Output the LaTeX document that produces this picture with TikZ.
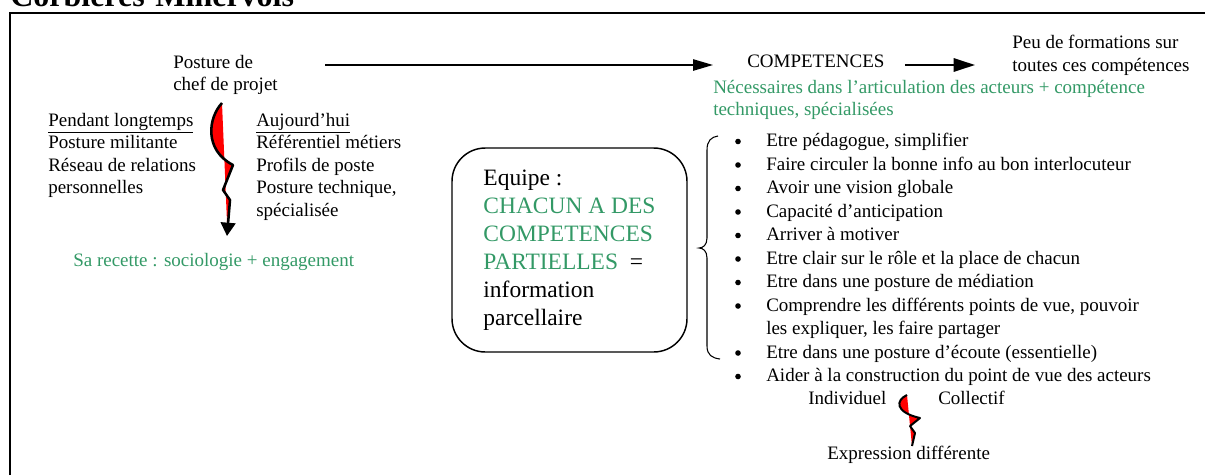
\documentclass[tikz,border=0pt]{standalone}
\usepackage{fontspec}
\setmainfont{Liberation Serif}
\usetikzlibrary{arrows.meta}
\definecolor{seagreen}{RGB}{51,153,102}
\newcommand{\bodysize}{\fontsize{14.25}{16.8}\selectfont}
\newcommand{\boxsize}{\fontsize{17.6}{21}\selectfont}
\tikzset{
  txt/.style={font=\bodysize, inner sep=0pt, align=left, anchor=north west},
  lbl/.style={font=\bodysize, inner sep=0pt, anchor=base west},
  arr/.style={-{Triangle[length=15pt,width=8.5pt]}},
  bolt/.style={line width=1.9pt, line join=round}
}
\begin{document}
\begin{tikzpicture}[x=0.75pt,y=-0.75pt]
  \useasboundingbox (0,0) rectangle (1205,475);
  % title and frame
  \node[lbl, font=\fontsize{24}{28}\selectfont\bfseries] (title) at (10,6) {Corbières-Minervois};
  \draw[line width=1.5pt] (10,475) -- (10,13) -- (1205,13);

  % left part
  \node[txt] (posture) at (173,55) {Posture de\\chef de projet};
  \node[txt] (avant) at (48,113) {\underline{Pendant longtemps}\\Posture militante\\Réseau de relations\\personnelles};
  \node[txt] (now) at (256,113) {\underline{Aujourd’hui}\\Référentiel métiers\\Profils de poste\\Posture technique,\\spécialisée};
  \node[lbl, text=seagreen] (recette) at (73,266) {Sa recette : sociologie + engagement};
  \fill[red] (222,103) .. controls (208,118) and (204,150) .. (233,165) -- (223,190) -- (230,200) -- (227,222) -- cycle;
  \draw[bolt, -{Triangle[length=10pt,width=11pt]}] (222,103) .. controls (208,118) and (204,150) .. (233,165) -- (223,190) -- (230,200) -- (227,236);

  % competences
  \node[lbl] (comp) at (747,67) {COMPETENCES};
  \node[txt] (peu) at (1012,35) {Peu de formations sur\\toutes ces compétences};
  \node[txt, text=seagreen] (need) at (713,80) {Nécessaires dans l’articulation des acteurs + compétence\\techniques, spécialisées};
  \coordinate (a1) at (325,65);
  \draw[arr, line width=1.2pt, shorten >=25.5pt] (a1) -- (a1 -| comp.west);
  \draw[-{Triangle[length=16pt,width=10pt]}, line width=1.5pt, shorten <=15pt, shorten >=27.75pt] (comp.east |- a1) -- (peu.west |- a1);

  % equipe
  \node[draw, line width=1.1pt, rounded corners=25pt, minimum width=176.25pt, minimum height=153pt,
    align=left, font=\boxsize, inner sep=0pt] (equipe) at (569.5,250)
    {Equipe :\\\textcolor{seagreen}{CHACUN A DES}\\\textcolor{seagreen}{COMPETENCES}\\\textcolor{seagreen}{PARTIELLES}~ =\\information\\parcellaire};

  % list of skills
  \draw[line width=0.8pt] (718,136) .. controls (711,137) and (707,141) .. (707,150) -- (707,238)
    .. controls (707,245) and (703,248) .. (699,248) .. controls (703,248) and (707,251) .. (707,258)
    -- (707,346) .. controls (707,355) and (712,358) .. (720,359);
  \foreach \n/\y/\txt in {1/146.5/{Etre pédagogue, simplifier},
    2/170/{Faire circuler la bonne info au bon interlocuteur},
    3/193.5/{Avoir une vision globale},
    4/217/{Capacité d’anticipation},
    5/240.5/{Arriver à motiver},
    6/264/{Etre clair sur le rôle et la place de chacun},
    7/287.5/{Etre dans une posture de médiation},
    8/311/{Comprendre les différents points de vue, pouvoir},
    9/358/{Etre dans une posture d’écoute (essentielle)},
    10/381.5/{Aider à la construction du point de vue des acteurs}} {
    \fill (738,\y-5) circle (2.8);
    \node[lbl] (it\n) at (766,\y) {\txt};
  }
  \node[lbl] (it8b) at (766,334.5) {les expliquer, les faire partager};

  % individuel / collectif
  \node[lbl] (indiv) at (808,404) {Individuel};
  \node[lbl] (coll) at (938,404) {Collectif};
  \node[lbl] (expr) at (827,459) {Expression différente};
  \fill[red] (907,395) .. controls (896,400) and (894,412) .. (920,418) -- (910,426) -- (915,433) -- (912,446) -- cycle;
  \draw[line width=1.5pt, line join=round] (907,395) .. controls (896,400) and (894,412) .. (920,418) -- (910,426) -- (915,433) -- (912,446);
\end{tikzpicture}
\end{document}
